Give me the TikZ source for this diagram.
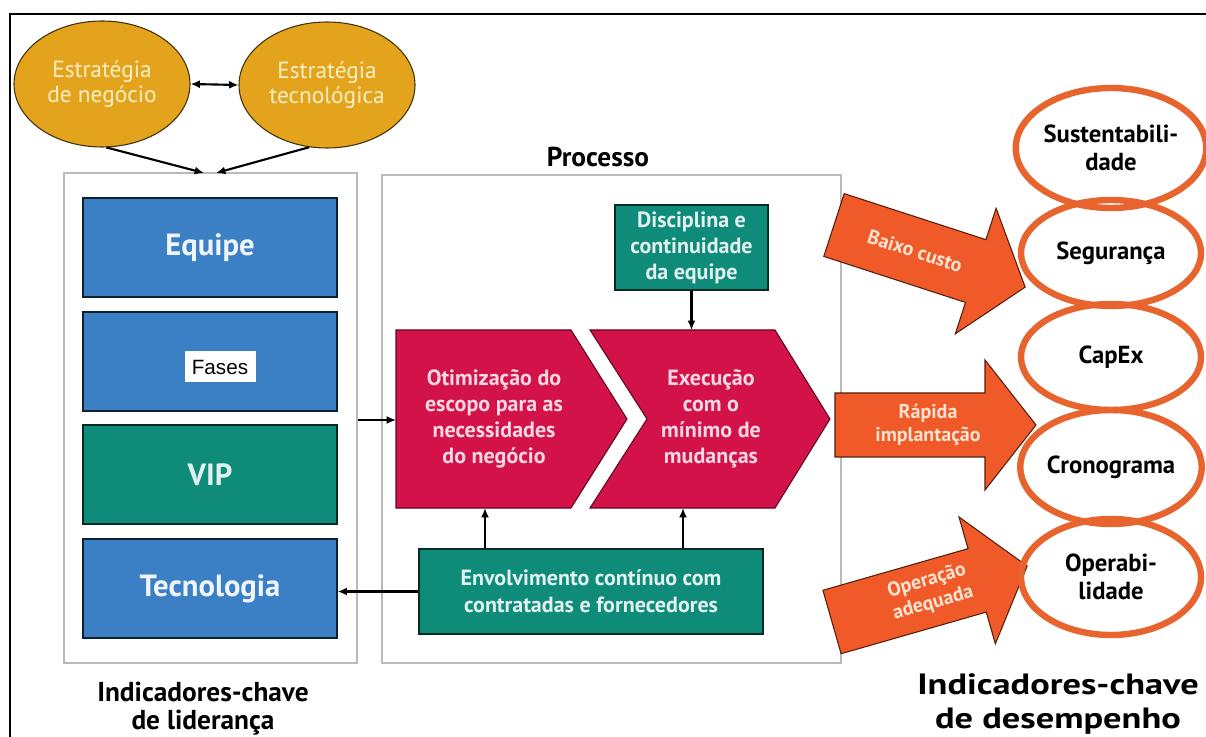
\documentclass[tikz,border=0pt]{standalone}
\usepackage{fontspec}
\setmainfont{PT Sans}
\newfontfamily\arialf{Liberation Sans}
\usetikzlibrary{shapes.geometric,arrows.meta,calc}
\definecolor{kblue}{HTML}{3B7FC4}
\definecolor{kteal}{HTML}{0F8C79}
\definecolor{kred}{HTML}{D3124A}
\definecolor{kgold}{HTML}{E4A31D}
\definecolor{korange}{HTML}{F05A28}
\definecolor{kring}{HTML}{E8642E}
\definecolor{kcream}{HTML}{FBEFC4}
\definecolor{kpink}{HTML}{F8D8E2}
\definecolor{kpeach}{HTML}{FDE3D0}
\newcommand\fsz[2]{\fontsize{#1}{#2}\selectfont}
\begin{document}
\begin{tikzpicture}[x=0.75pt,y=-0.75pt,
  sz/.style 2 args={minimum width={#1*0.75pt}, minimum height={#2*0.75pt}},
  gbox/.style={draw=black!27, line width=1.2pt, inner sep=0pt},
  bluebox/.style={fill=kblue, draw=black!75!kblue, line width=0.9pt, inner sep=0pt, text=white!92!kblue, font=\bfseries\fsz{23pt}{27pt}},
  tealbox/.style={fill=kteal, draw=black!70!kteal, line width=0.9pt, inner sep=0pt, text=white!88!kteal, align=center},
  chev/.style={fill=kred, draw=black!55!kred, line width=0.8pt},
  chevtext/.style={text=kpink, align=center, font=\bfseries\fsz{16.5pt}{19.5pt}},
  strat/.style={ellipse, fill=kgold, draw=black!70!kgold, line width=0.8pt, inner sep=0pt, minimum width={176*0.75pt}, minimum height={126*0.75pt}, text=kcream, align=center, font=\fsz{17.5pt}{18.5pt}},
  kpi/.style={ellipse, draw=kring, line width=4.8pt, inner sep=0pt, minimum width={180*0.75pt}, align=center, font=\bfseries\fsz{18.5pt}{21pt}},
  bigarrow/.style={fill=korange, draw=black!65!korange, line width=0.8pt, line join=miter},
  arrtext/.style={text=kpeach, align=center, font=\bfseries\fsz{15pt}{17.25pt}},
  conn/.style={-{Latex[length=7pt,width=6pt]}, line width=1.6pt},
  dconn/.style={{Latex[length=7pt,width=6pt]}-{Latex[length=7pt,width=6pt]}, line width=1.6pt}
]
\useasboundingbox (0,0) rectangle (1206,737);
\fill[white] (0,0) rectangle (1206,737);
% frame
\draw[line width=2.2pt] (10,737) -- (10,14) -- (1206,14);

% strategy ellipses
\node[strat] (sn) at (102,84) {Estratégia\\de negócio};
\node[strat] (st) at (327,85) {Estratégia\\tecnológica};
\draw[dconn] (sn.east) -- (st.west);

% gray containers
\node[gbox, sz={293}{490}] (leftbox) at (210.5,418) {};
\node[gbox, sz={459}{488}] (procbox) at (611.5,419) {};
\node[font=\bfseries\fsz{20.5pt}{24pt}] (proctitle) at (598,157) {Processo};

\coordinate (ta) at (204,173);
\coordinate (tb) at (216,173);
\draw[conn] (sn.-86) -- (ta);
\draw[conn] (st.-106) -- (tb);

% left column boxes
\node[bluebox, sz={254}{99}] (equipe) at (210,247.5) {Equipe};
\node[bluebox, sz={254}{99}] (fases) at (210,361.5) {};
\node[fill=white, inner sep=0pt, sz={71}{31}, font=\arialf\fsz{15.5pt}{18pt}] (faseslbl) at (220,367) {Fases};
\node[tealbox, sz={254}{99}, font=\bfseries\fsz{23pt}{27pt}] (vip) at (210,474.5) {VIP};
\node[bluebox, sz={254}{99}] (tec) at (210,588.5) {Tecnologia};

% process boxes
\node[tealbox, sz={153}{85}, font=\bfseries\fsz{16.5pt}{19.5pt}] (disc) at (691.5,247.5) {Disciplina e\\continuidade\\da equipe};
\node[tealbox, sz={344}{85}, font=\bfseries\fsz{16.5pt}{20pt}] (env) at (591,591.5) {Envolvimento contínuo com\\contratadas e fornecedores};

\draw[chev] (396,330) -- (571,330) -- (627,419) -- (571,508) -- (396,508) -- cycle;
\draw[chev] (590,330) -- (775,330) -- (830,419) -- (775,508) -- (590,508) -- (647,419) -- cycle;
\node[chevtext] (opt) at (494,419) {Otimização do\\escopo para as\\necessidades\\do negócio};
\node[chevtext] (exec) at (711,419) {Execução\\com o\\mínimo de\\mudanças};

\coordinate (c1w) at (396,420);
\coordinate (c2n) at (691.5,330);
\coordinate (c1s) at (485,508);
\coordinate (c2s) at (683,508);

\draw[conn] (c1w -| leftbox.east) -- (c1w);
\draw[conn] (disc.south) -- (c2n);
\draw[conn] (c1s |- env.north) -- (c1s);
\draw[conn] (c2s |- env.north) -- (c2s);
\draw[conn] (env.west) -- (env.west -| tec.east);

% big orange arrows
\begin{scope}[shift={(834,225)}, rotate=-18]
  \draw[bigarrow] (0,-33) -- (149,-33) -- (149,-66) -- (201,0) -- (149,66) -- (149,33) -- (0,33) -- cycle;
\end{scope}
\node[arrtext, rotate=-18] (a1) at (915,251) {Baixo custo};
\begin{scope}[shift={(835,425)}]
  \draw[bigarrow] (0,-32) -- (150,-32) -- (150,-65) -- (201,0) -- (150,65) -- (150,32) -- (0,32) -- cycle;
\end{scope}
\node[arrtext] (a2) at (928,425) {Rápida\\implantação};
\begin{scope}[shift={(832,622)}, rotate=16]
  \draw[bigarrow] (0,-33) -- (151,-33) -- (151,-66) -- (203,0) -- (151,66) -- (151,33) -- (0,33) -- cycle;
\end{scope}
\node[arrtext, rotate=16] (a3) at (930,592) {Operação\\adequada};

% KPI ellipses
\node[kpi, minimum height={120*0.75pt}] (sust) at (1111,148) {Sustentabili-\\dade};
\node[kpi, minimum height={106*0.75pt}] (seg) at (1111,253) {Segurança};
\node[kpi, minimum height={106*0.75pt}] (capex) at (1111,357) {CapEx};
\node[kpi, minimum height={114*0.75pt}] (crono) at (1111,467) {Cronograma};
\node[kpi, minimum height={116*0.75pt}] (oper) at (1111,577) {Operabi-\\lidade};

% bottom labels
\node[align=center, font=\bfseries\fsz{20.5pt}{21pt}] (kpl) at (203,709) {Indicadores-chave\\de liderança};
\node[font=\bfseries\fsz{22pt}{25.5pt}] (kpd) at (1058,705) {\scalebox{1.24}[1]{\begin{tabular}{@{}c@{}}Indicadores-chave\\de desempenho\end{tabular}}};
\end{tikzpicture}
\end{document}
